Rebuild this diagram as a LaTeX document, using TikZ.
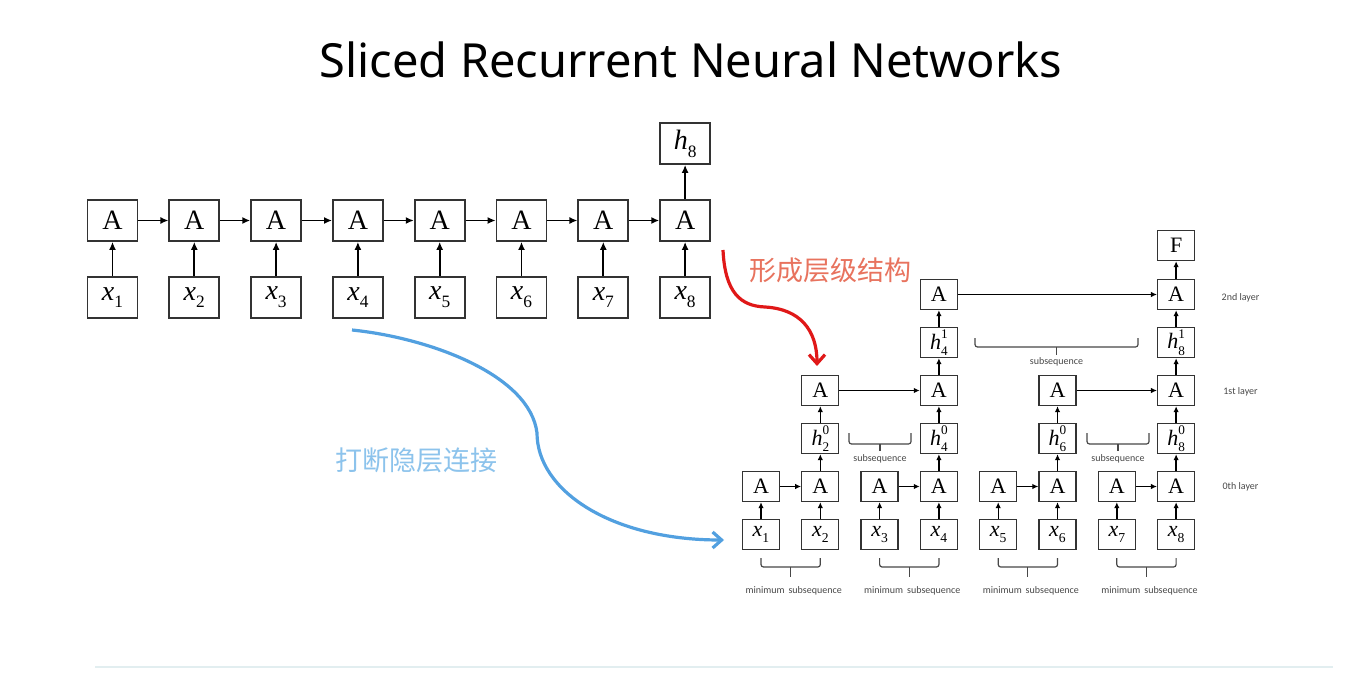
\documentclass[tikz,border=0pt]{standalone}
\usepackage{fontspec}
\usepackage{graphicx}
\setmainfont{Liberation Serif}
\newfontfamily\titlefont{Noto Sans}
\newfontfamily\labfont{Carlito}
\newfontfamily\cjk{Noto Sans CJK SC}
\usetikzlibrary{arrows.meta}
\definecolor{boxc}{HTML}{333333}
\definecolor{labc}{HTML}{484848}
\definecolor{redarr}{HTML}{E01818}
\definecolor{redtxt}{HTML}{E8735E}
\definecolor{bluearr}{HTML}{52A0E0}
\definecolor{bluetxt}{HTML}{8CC3EC}
\definecolor{rulec}{HTML}{E2EEF0}
\newcommand{\vsub}[2]{\textit{#1}\raisebox{-0.28em}{\scalebox{0.62}{#2}}}
\newcommand{\vsubsup}[3]{\textit{#1}\rlap{\raisebox{0.48em}{\scalebox{0.6}{#3}}}\raisebox{-0.28em}{\scalebox{0.6}{#2}}}
\tikzset{
  lbox/.style={draw=boxc, line width=1.7pt, minimum width=50pt, minimum height=41pt, inner sep=0pt, font=\fontsize{28}{30}\selectfont},
  rbox/.style={draw=boxc, line width=1.3pt, minimum width=37pt, minimum height=30pt, inner sep=0pt, font=\fontsize{22}{24}\selectfont},
  larr/.style={-{Latex[length=8pt,width=7pt]}, line width=1.9pt},
  rarr/.style={-{Latex[length=6pt,width=5.5pt]}, line width=1.4pt},
  brace/.style={draw=labc, line width=1.2pt, rounded corners=2.5pt},
  lab/.style={font=\labfont\fontsize{10}{12}\selectfont, text=labc, inner sep=0pt},
}
\begin{document}
\begin{tikzpicture}[x=1pt,y=-1pt]
\useasboundingbox[fill=white] (0,0) rectangle (1348,674);
% title
\node[font=\titlefont\fontsize{47}{56}\selectfont] (title) at (691,60) {Sliced Recurrent Neural Networks};
% left chain
\foreach \i/\x in {1/112.5,2/194.3,3/276.1,4/357.9,5/439.7,6/521.5,7/603.3,8/685.1}{
  \node[lbox] (LA\i) at (\x,220.5) {A};
  \node[lbox] (LX\i) at (\x,297.5) {\vsub{x}{\i}};
  \draw[larr] (LX\i) -- (LA\i);
}
\foreach \i/\j in {1/2,2/3,3/4,4/5,5/6,6/7,7/8}{ \draw[larr] (LA\i) -- (LA\j); }
\node[lbox] (LH8) at (685.1,143.5) {\vsub{h}{8}};
\draw[larr] (LA8) -- (LH8);
% right diagram
\foreach \i/\x in {1/761,2/820.3,3/879.6,4/938.9,5/998.2,6/1057.5,7/1116.8,8/1176.1}{
  \node[rbox] (RX\i) at (\x,534.5) {\vsub{x}{\i}};
  \node[rbox] (RA\i) at (\x,486.5) {A};
  \draw[rarr] (RX\i) -- (RA\i);
}
\foreach \i/\x in {2/820.3,4/938.9,6/1057.5,8/1176.1}{
  \node[rbox] (RH\i) at (\x,438.5) {\vsubsup{h}{\i}{0}};
  \node[rbox] (RB\i) at (\x,390.5) {A};
  \draw[rarr] (RA\i) -- (RH\i);
  \draw[rarr] (RH\i) -- (RB\i);
}
\foreach \i/\x in {4/938.9,8/1176.1}{
  \node[rbox] (RG\i) at (\x,342.5) {\vsubsup{h}{\i}{1}};
  \node[rbox] (RC\i) at (\x,294.5) {A};
  \draw[rarr] (RB\i) -- (RG\i);
  \draw[rarr] (RG\i) -- (RC\i);
}
\node[rbox] (RF) at (1176.1,245.5) {F};
\draw[rarr] (RC8) -- (RF);
\foreach \i/\j in {1/2,3/4,5/6,7/8}{ \draw[rarr] (RA\i) -- (RA\j); }
\draw[rarr] (RB2) -- (RB4);
\draw[rarr] (RB6) -- (RB8);
\draw[rarr] (RC4) -- (RC8);
% layer labels
\node[lab] (L2) at (1240.5,298) {2nd layer};
\node[lab] (L1) at (1240.5,392) {1st layer};
\node[lab] (L0) at (1240.5,487) {0th layer};
% minimum subsequence braces
\foreach \a/\b in {761/820.3,879.6/938.9,998.2/1057.5,1116.8/1176.1}{
  \draw[brace] (\a,558) -- (\a,567) -- (\b,567) -- (\b,558);
  \draw[labc, line width=1.2pt] ({(\a+\b)/2},567) -- ({(\a+\b)/2},577);
  \node[lab] at ({(\a+\b)/2+3},591) {minimum\, subsequence};
}
% subsequence braces (hidden level)
\foreach \a/\b in {849/911,1087/1149}{
  \draw[brace] (\a,433) -- (\a,444) -- (\b,444) -- (\b,433);
  \draw[labc, line width=1.2pt] ({(\a+\b)/2},444) -- ({(\a+\b)/2},451);
  \node[lab] at ({(\a+\b)/2},458.5) {subsequence};
}
\draw[brace] (975,338) -- (975,347) -- (1138,347) -- (1138,338);
\draw[labc, line width=1.2pt] (1056.5,347) -- (1056.5,355);
\node[lab] at (1056.5,362) {subsequence};
% annotations
\node[font=\cjk\fontsize{27}{30}\selectfont, text=redtxt] (t1) at (830,270) {形成层级结构};
\node[font=\cjk\fontsize{27}{30}\selectfont, text=bluetxt] (t2) at (416,460) {打断隐层连接};
\draw[redarr, line width=3.2pt, -{Straight Barb[length=9pt,width=16pt]}]
  (723,250) .. controls (725,292) and (740,306) .. (765,307)
  .. controls (800,309) and (817,330) .. (817,366);
\draw[bluearr, line width=3.2pt, -{Straight Barb[length=9pt,width=16pt]}]
  (352,330) .. controls (430,338) and (530,375) .. (537,433)
  .. controls (537,490) and (610,540) .. (724,540);
% bottom rule
\draw[rulec, line width=2pt] (95,667) -- (1333,667);
\end{tikzpicture}
\end{document}
